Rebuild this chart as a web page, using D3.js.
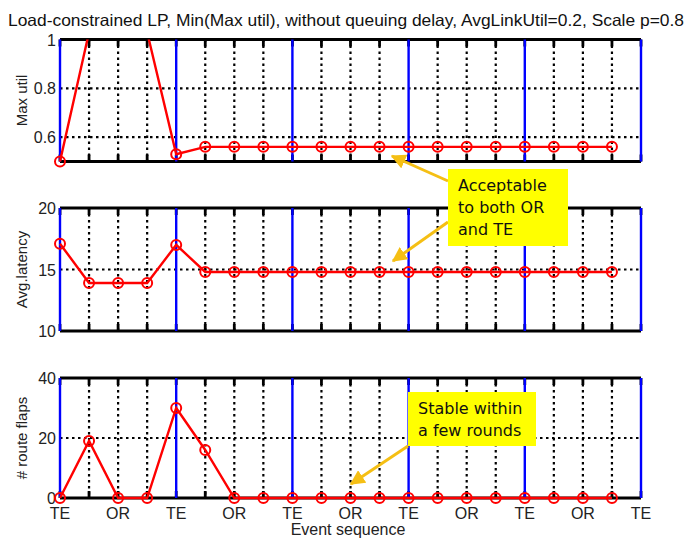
<!DOCTYPE html>
<html>
<head>
<meta charset="utf-8">
<script src="https://cdn.jsdelivr.net/npm/d3@7"></script>
<style>
  body { margin: 0; background: #fff; }
  svg { display: block; font-family: Arial, "Liberation Sans", sans-serif; }
</style>
</head>
<body>
<svg id="chart" width="688" height="539"></svg>
<script>
(function () {
    'use strict';

    // ── Data ──────────────────────────────────────────────
    const eventIdx   = d3.range(0, 20);
    const maxUtil    = [0.5, 1.03, 1.03, 1.03, 0.53, 0.56, 0.56, 0.56, 0.56, 0.56,
                        0.56, 0.56, 0.56, 0.56, 0.56, 0.56, 0.56, 0.56, 0.56, 0.56];
    const avgLatency = [17.1, 13.9, 13.9, 13.9, 17.0, 14.8, 14.8, 14.8, 14.8, 14.8,
                        14.8, 14.8, 14.8, 14.8, 14.8, 14.8, 14.8, 14.8, 14.8, 14.8];
    const routeFlaps = [0, 19, 0, 0, 30, 16, 0, 0, 0, 0,
                        0, 0, 0, 0, 0, 0, 0, 0, 0, 0];
    const phaseTicks = [0, 4, 8, 12, 16, 20];          // TE rounds (blue lines)
    const xLabels    = [[0, 'TE'], [2, 'OR'], [4, 'TE'], [6, 'OR'], [8, 'TE'], [10, 'OR'],
                        [12, 'TE'], [14, 'OR'], [16, 'TE'], [18, 'OR'], [20, 'TE']];

    const panels = [
        { label: 'Max util',      values: maxUtil,    domain: [0.5, 1], ticks: [0.6, 0.8, 1], fmt: d => d === 1 ? '1' : d3.format('.1f')(d), top: 39.5, bottom: 161.5 },
        { label: 'Avg.latency',   values: avgLatency, domain: [10, 20], ticks: [10, 15, 20],  fmt: d => d, top: 208, bottom: 331 },
        { label: '# route flaps', values: routeFlaps, domain: [0, 40],  ticks: [0, 20, 40],   fmt: d => d, top: 378, bottom: 498 },
    ];

    const svg = d3.select('#chart');
    const x = d3.scaleLinear().domain([0, 20]).range([60, 641]);

    const RED = '#ff0000';
    const BLUE = '#0000ff';
    const TEXT = '#222';

    // title
    svg.append('text')
        .attr('x', 346).attr('y', 26)
        .attr('text-anchor', 'middle')
        .attr('font-size', '16.5px')
        .attr('textLength', 676)
        .attr('lengthAdjust', 'spacingAndGlyphs')
        .attr('fill', '#111')
        .text('Load-constrained LP, Min(Max util), without queuing delay, AvgLinkUtil=0.2, Scale p=0.8');

    const defs = svg.append('defs');

    panels.forEach((p, i) => {
        const y = d3.scaleLinear().domain(p.domain).range([p.bottom, p.top]);
        const g = svg.append('g');

        defs.append('clipPath').attr('id', `clip-${i}`)
            .append('rect')
            .attr('x', x(0) - 8).attr('y', p.top)
            .attr('width', x(20) - x(0) + 16).attr('height', p.bottom - p.top + 8);

        // dotted vertical grid
        g.selectAll('.vgrid')
            .data(d3.range(1, 20).filter(v => !phaseTicks.includes(v)))
            .join('line')
            .attr('x1', d => x(d)).attr('x2', d => x(d))
            .attr('y1', p.top).attr('y2', p.bottom)
            .attr('stroke', '#000').attr('stroke-width', 2.2)
            .attr('stroke-dasharray', '2.5,3.5');

        // dotted horizontal grid
        g.selectAll('.hgrid')
            .data(p.ticks.filter(t => t !== p.domain[0] && t !== p.domain[1]))
            .join('line')
            .attr('x1', x(0)).attr('x2', x(20))
            .attr('y1', d => y(d)).attr('y2', d => y(d))
            .attr('stroke', '#000').attr('stroke-width', 2.2)
            .attr('stroke-dasharray', '2.5,3.5');

        // top / bottom frame
        [p.top, p.bottom].forEach(yy => {
            g.append('line')
                .attr('x1', x(0)).attr('x2', x(20))
                .attr('y1', yy).attr('y2', yy)
                .attr('stroke', '#000').attr('stroke-width', 2.8);
        });

        // inner tick marks
        g.selectAll('.tk')
            .data(d3.range(0, 21))
            .join('g')
            .each(function (d) {
                const s = d3.select(this);
                s.append('line').attr('x1', x(d)).attr('x2', x(d))
                    .attr('y1', p.top).attr('y2', p.top + 7)
                    .attr('stroke', '#000').attr('stroke-width', 2.8);
                s.append('line').attr('x1', x(d)).attr('x2', x(d))
                    .attr('y1', p.bottom).attr('y2', p.bottom - 7)
                    .attr('stroke', '#000').attr('stroke-width', 2.8);
            });

        // blue phase lines
        g.selectAll('.phase')
            .data(phaseTicks)
            .join('line')
            .attr('x1', d => x(d)).attr('x2', d => x(d))
            .attr('y1', p.top).attr('y2', p.bottom)
            .attr('stroke', BLUE).attr('stroke-width', 2.4);

        // y tick labels
        g.selectAll('.ylab')
            .data(p.ticks)
            .join('text')
            .attr('x', x(0) - 4)
            .attr('y', d => y(d) + 6)
            .attr('text-anchor', 'end')
            .attr('font-size', '16px')
            .attr('fill', TEXT)
            .text(p.fmt);

        // y axis label
        g.append('text')
            .attr('transform', `translate(27,${(p.top + p.bottom) / 2}) rotate(-90)`)
            .attr('text-anchor', 'middle')
            .attr('font-size', '15px')
            .attr('fill', TEXT)
            .text(p.label);

        // series
        const data = eventIdx.map(k => [k, p.values[k]]);
        const plot = g.append('g').attr('clip-path', `url(#clip-${i})`);

        plot.append('path')
            .datum(data)
            .attr('fill', 'none')
            .attr('stroke', RED)
            .attr('stroke-width', 2.4)
            .attr('d', d3.line().x(d => x(d[0])).y(d => y(d[1])));

        plot.selectAll('circle')
            .data(data.filter(d => d[1] <= p.domain[1]))
            .join('circle')
            .attr('cx', d => x(d[0]))
            .attr('cy', d => y(d[1]))
            .attr('r', 5)
            .attr('fill', 'none')
            .attr('stroke', RED)
            .attr('stroke-width', 2);

        // x labels on the bottom panel only
        if (i === panels.length - 1) {
            g.selectAll('.xlab')
                .data(xLabels)
                .join('text')
                .attr('x', d => x(d[0]))
                .attr('y', p.bottom + 21)
                .attr('text-anchor', 'middle')
                .attr('font-size', '16px')
                .attr('fill', TEXT)
                .text(d => d[1]);

            g.append('text')
                .attr('x', 348).attr('y', 535)
                .attr('text-anchor', 'middle')
                .attr('font-size', '16px')
                .attr('fill', TEXT)
                .text('Event sequence');
        }
    });

    // ── Callouts ──────────────────────────────────────────
    const ARROW = '#f5bf14';
    defs.append('marker')
        .attr('id', 'arrowhead')
        .attr('viewBox', '0 0 10 10')
        .attr('refX', 9).attr('refY', 5)
        .attr('markerWidth', 5).attr('markerHeight', 5)
        .attr('markerUnits', 'strokeWidth')
        .attr('orient', 'auto')
        .append('path')
        .attr('d', 'M0,0 L10,5 L0,10 z')
        .attr('fill', ARROW);

    const callouts = [
        { lines: ['Acceptable', 'to both OR', 'and TE'], box: [448, 169, 120, 77],
          arrows: [[[448, 181], [392, 156]], [[448, 222], [393, 261]]] },
        { lines: ['Stable within', 'a few rounds'], box: [408, 392, 128, 54],
          arrows: [[[408, 446], [351, 484]]] },
    ];

    callouts.forEach(c => {
        const [bx, by, bw, bh] = c.box;
        c.arrows.forEach(a => {
            svg.append('line')
                .attr('x1', a[0][0]).attr('y1', a[0][1])
                .attr('x2', a[1][0]).attr('y2', a[1][1])
                .attr('stroke', ARROW).attr('stroke-width', 3)
                .attr('marker-end', 'url(#arrowhead)');
        });
        svg.append('rect')
            .attr('x', bx).attr('y', by).attr('width', bw).attr('height', bh)
            .attr('fill', '#ffff00');
        c.lines.forEach((t, k) => {
            svg.append('text')
                .attr('x', bx + 10).attr('y', by + 22 + k * 22)
                .attr('font-family', '"DejaVu Sans", Verdana, sans-serif')
                .attr('font-size', '16px')
                .attr('fill', '#111')
                .text(t);
        });
    });
})();
</script>
</body>
</html>
